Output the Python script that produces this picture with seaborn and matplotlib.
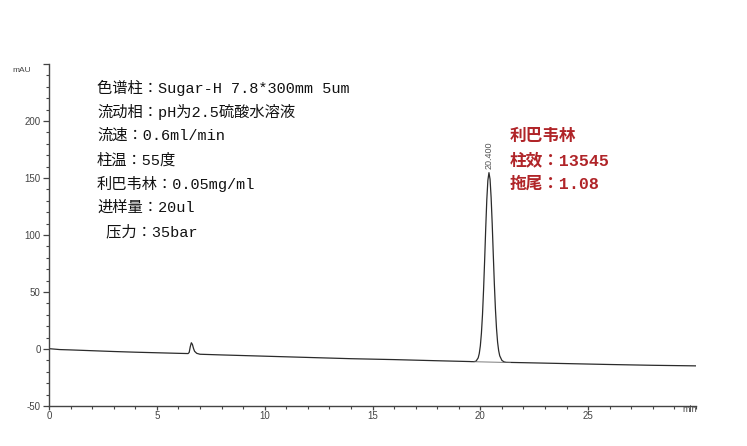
import matplotlib
matplotlib.use("Agg")
import matplotlib.pyplot as plt
from matplotlib.ticker import MultipleLocator, FixedLocator
import seaborn as sns
import pandas as pd

# ---- data ----
time_min = [0, 0.5, 1, 2, 3, 4, 5, 6, 6.45, 6.5, 6.55, 6.6, 6.65, 6.7, 6.75, 6.85, 7.0,
            8, 10, 12, 14, 16, 18, 19.5, 19.6, 19.7, 19.8, 19.9, 19.95, 20.0, 20.05,
            20.1, 20.15, 20.2, 20.25, 20.3, 20.35, 20.4, 20.45, 20.5, 20.55, 20.6, 20.65,
            20.7, 20.75, 20.8, 20.85, 20.9, 21.0, 21.1, 21.2, 22, 24, 26, 28, 30]
absorbance_mAU = [0.3, -0.5, -0.8, -1.5, -2.2, -2.8, -3.3, -3.8, -4.0, -3.0, 2.0, 5.5, 4.0,
                  0.5, -2.0, -3.8, -4.6, -5.2, -6.3, -7.4, -8.5, -9.3, -10.3, -11.0, -11.1,
                  -11.1, -10.7, -7.8, -4.0, 2.7, 13.8, 30, 52, 78, 106, 131, 148, 154.7, 149,
                  133, 110, 83, 57, 35, 18, 6, -1.5, -6, -10, -11.3, -11.7, -12.0, -12.8,
                  -13.6, -14.3, -14.8]
peak_label = "20.400"
peak_time = 20.4
peak_height = 154.7
integ_time = [19.7, 21.4]
integ_value = [-11.2, -11.8]

x_major = [0, 5, 10, 15, 20, 25]
y_major = [-50, 0, 50, 100, 150, 200, 250]
y_labels = ["-50", "0", "50", "100", "150", "200", ""]

info_lines = ["色谱柱：Sugar-H 7.8*300mm 5um",
              "流动相：pH为2.5硫酸水溶液",
              "流速：0.6ml/min",
              "柱温：55度",
              "利巴韦林：0.05mg/ml",
              "进样量：20ul",
              " 压力：35bar"]
red_lines = ["利巴韦林", "柱效：13545", "拖尾：1.08"]

sns.set_theme(style="ticks")
plt.rcParams["font.family"] = ["Liberation Sans", "Noto Sans CJK JP", "DejaVu Sans"]

W, H = 747, 446
fig = plt.figure(figsize=(W / 100, H / 100), dpi=100)
fig.patch.set_facecolor("white")
ax = fig.add_axes([49 / W, 1 - 406 / H, (696 - 49) / W, (406 - 64) / H])
ax.set_facecolor("white")

df = pd.DataFrame({"t": time_min, "a": absorbance_mAU})
sns.lineplot(data=df, x="t", y="a", ax=ax, color="#2b2b2b", linewidth=0.9, sort=False)
ax.plot(integ_time, integ_value, color="#666666", linewidth=0.6)

ax.set_xlim(0, 30)
ax.set_ylim(-50, 250)
ax.set_xlabel("")
ax.set_ylabel("")
ax.xaxis.set_major_locator(FixedLocator(x_major))
ax.xaxis.set_minor_locator(MultipleLocator(1))
ax.yaxis.set_major_locator(FixedLocator(y_major))
ax.set_yticklabels(y_labels)
ax.yaxis.set_minor_locator(MultipleLocator(10))
for s in ["top", "right"]:
    ax.spines[s].set_visible(False)
for s in ["left", "bottom"]:
    ax.spines[s].set_color("#444444")
    ax.spines[s].set_linewidth(1.0)
ax.tick_params(axis="both", which="major", length=4, width=0.9, color="#444444",
               labelsize=7, labelcolor="#444444", pad=2)
ax.tick_params(axis="x", which="major", length=3, pad=0.5)
ax.tick_params(axis="both", which="minor", length=2.5, width=0.8, color="#444444")

ax.text(peak_time, peak_height + 3, peak_label, rotation=90, ha="center", va="bottom",
        fontsize=6.5, color="#555555")

fig.text(22 / W, 1 - 70 / H, "mAU", fontsize=6, color="#444444", ha="center", va="center")
fig.text(690 / W, 1 - 410 / H, "min", fontsize=6.5, color="#444444", ha="center", va="center")

fam = ["Liberation Mono", "Noto Sans CJK JP"]
for i, line in enumerate(info_lines):
    fig.text(97 / W, 1 - (88 + 24 * i) / H, line, fontsize=11, color="#111111",
             ha="left", va="center", family=fam)
for i, line in enumerate(red_lines):
    fig.text(510 / W, 1 - (136 + 24 * i) / H, line, fontsize=12, color="#b02428",
             ha="left", va="center", family=fam, fontweight="bold")

fig.savefig("out.png", dpi=100, facecolor="white")
